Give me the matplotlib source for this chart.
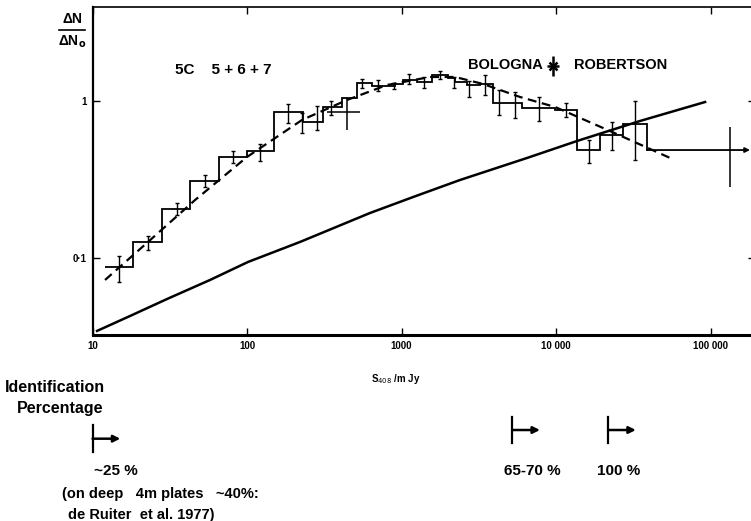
import numpy as np
import matplotlib
matplotlib.use('Agg')
import matplotlib.pyplot as plt
from matplotlib.ticker import FixedLocator, FixedFormatter
from matplotlib.transforms import blended_transform_factory, offset_copy

plt.rcParams['font.family'] = ['Liberation Sans', 'DejaVu Sans']

# 5C 5+6+7 differential counts (histogram), normalised to Euclidean
bin_edges = [12, 18.3, 28.2, 42.8, 65.9, 100, 150, 230, 310, 410,
             515, 645, 905, 1020, 1260, 1575, 2000, 2220, 2650, 3220,
             3900, 6000, 9850, 13700, 19300, 27200, 38800]
bin_vals = [0.088, 0.126, 0.205, 0.31, 0.44, 0.48, 0.85, 0.735, 0.916, 1.045,
            1.30, 1.246, 1.283, 1.36, 1.32, 1.46, 1.40, 1.32, 1.264, 1.283,
            0.971, 0.902, 0.876, 0.487, 0.607, 0.714]

# error bars on the histogram
err_x = [14.8, 22.9, 35.2, 53.5, 81.2, 121, 184, 227, 284, 350,
         555, 705, 894, 1118, 1398, 1775, 2187, 2735, 3472, 4276,
         5428, 7762, 11610, 16350, 23040, 32450]
err_y = [0.088, 0.126, 0.205, 0.31, 0.44, 0.47, 0.851, 0.735, 0.814, 0.916,
         1.302, 1.246, 1.246, 1.36, 1.321, 1.464, 1.321, 1.264, 1.30, 0.971,
         0.971, 0.902, 0.876, 0.487, 0.607, 0.714]
err_lo = [0.0703, 0.1124, 0.188, 0.2834, 0.4028, 0.4148, 0.724, 0.625, 0.654, 0.814,
          1.21, 1.158, 1.192, 1.283, 1.21, 1.381, 1.21, 1.06, 1.092, 0.814,
          0.779, 0.746, 0.791, 0.4028, 0.487, 0.421]
err_hi = [0.103, 0.138, 0.224, 0.338, 0.4804, 0.5323, 0.957, 0.839, 0.929, 1.0,
          1.381, 1.36, 1.302, 1.486, 1.422, 1.553, 1.422, 1.341, 1.464, 1.175,
          1.141, 1.06, 0.971, 0.5646, 0.735, 1.0]

# Robertson points (wide crosses)
rob_x = [444, 133700]
rob_y = [0.851, 0.487]
rob_xlo = [330, 38800]
rob_xhi = [539, 180000]
rob_ylo = [0.654, 0.283]
rob_yhi = [1.045, 0.683]

# dashed fitted curve
fit_x = [12.05, 23.6, 46.1, 100, 227, 444, 805, 1529, 2220, 3370, 5850, 9850, 23040, 54700]
fit_y = [0.0724, 0.130, 0.234, 0.44, 0.757, 1.015, 1.264, 1.422, 1.422, 1.283, 1.06, 0.916, 0.635, 0.4335]

# solid model curve
model_x = [10.7, 17.5, 30.4, 57.6, 101.5, 220, 625, 1250, 2390, 6490, 13670, 34970, 92130]
model_y = [0.0343, 0.0427, 0.0548, 0.0724, 0.0943, 0.1264, 0.1934, 0.249, 0.3138, 0.4335, 0.556, 0.746, 0.985]

# identification percentage limits
id_flux = [10, 5200, 21700]
id_labels = ['~25 %', '65-70 %', '100 %']

xticks = [10, 100, 1000, 10000, 100000]
xticklabels = ['10', '100', '1000', '10 000', '100 000']
yticks = [0.1, 1]
yticklabels = ['0·1', '1']

fig = plt.figure(figsize=(7.51, 5.21), dpi=100)
ax = fig.add_axes([0.1232, 0.357, 0.8822, 0.6296])
ax.set_xscale('log')
ax.set_yscale('log')
ax.set_xlim(10, 194000)
ax.set_ylim(0.0323, 3.97)

# histogram
ax.stairs(bin_vals, bin_edges, baseline=None, color='k', lw=1.3)
ax.plot([bin_edges[-1], bin_edges[-1]], [bin_vals[-1], rob_y[1]], color='k', lw=1.3)

yerr = [np.array(err_y) - np.array(err_lo), np.array(err_hi) - np.array(err_y)]
ax.errorbar(err_x, err_y, yerr=yerr, fmt='none', ecolor='k', elinewidth=1.0, capsize=1.2)

# Robertson first point: full cross
ax.errorbar(rob_x[0], rob_y[0],
            xerr=[[rob_x[0] - rob_xlo[0]], [rob_xhi[0] - rob_x[0]]],
            yerr=[[rob_y[0] - rob_ylo[0]], [rob_yhi[0] - rob_y[0]]],
            fmt='none', ecolor='k', elinewidth=1.1, capsize=0)
# Robertson last point: lower limit in flux with arrow
ax.errorbar(rob_x[1], rob_y[1],
            yerr=[[rob_y[1] - rob_ylo[1]], [rob_yhi[1] - rob_y[1]]],
            fmt='none', ecolor='k', elinewidth=1.1, capsize=0)
ax.annotate('', xy=(rob_xhi[1], rob_y[1]), xytext=(rob_xlo[1], rob_y[1]),
            arrowprops=dict(arrowstyle='-|>', color='k', lw=1.3, shrinkA=0, shrinkB=0,
                            mutation_scale=7))

ax.plot(fit_x, fit_y, color='k', lw=1.6, dashes=(4, 2.5))
ax.plot(model_x, model_y, color='k', lw=1.8)

# axes styling
for side, w in [('left', 1.6), ('bottom', 2.2), ('top', 1.2), ('right', 1.2)]:
    ax.spines[side].set_linewidth(w)
ax.xaxis.set_major_locator(FixedLocator(xticks))
ax.xaxis.set_major_formatter(FixedFormatter(xticklabels))
ax.yaxis.set_major_locator(FixedLocator(yticks))
ax.yaxis.set_major_formatter(FixedFormatter(yticklabels))
ax.minorticks_off()
ax.tick_params(which='major', direction='in', length=5, width=1, top=True, right=True,
               labelsize=7, pad=4)
for lab in ax.get_xticklabels() + ax.get_yticklabels():
    lab.set_fontweight('bold')

ax.set_xlabel(r'S$_{408}$ /m Jy', fontsize=7, fontweight='bold')
ax.xaxis.set_label_coords(0.458, -0.113)

# y-axis label as a fraction
fig.text(0.0965, 0.963, 'ΔN', ha='center', va='center', fontsize=10, fontweight='bold')
fig.add_artist(plt.Line2D([0.078, 0.113], [0.9425, 0.9425], color='k', lw=1.2))
fig.text(0.0955, 0.919, r'ΔN$_\mathbf{o}$', ha='center', va='center', fontsize=10, fontweight='bold')

ax.text(0.1245, 0.808, '5C    5 + 6 + 7', transform=ax.transAxes, ha='left', va='center',
        fontsize=11, fontweight='bold')
ax.text(0.680, 0.822, 'BOLOGNA', transform=ax.transAxes, ha='right', va='center',
        fontsize=10.5, fontweight='bold')
ax.text(0.7268, 0.822, 'ROBERTSON', transform=ax.transAxes, ha='left', va='center',
        fontsize=10.5, fontweight='bold')
for m, s in [('|', 14), ('x', 6), ('_', 8)]:
    ax.plot([0.695], [0.820], marker=m, markersize=s, mew=1.8, color='k',
            transform=ax.transAxes, clip_on=False)

# identification percentage section
fig.text(0.0067, 0.2553, 'Identification', ha='left', va='center', fontsize=11.5, fontweight='bold')
fig.text(0.0226, 0.215, 'Percentage', ha='left', va='center', fontsize=11.5, fontweight='bold')

trans = blended_transform_factory(ax.transData, fig.transFigure)
bar_ylo = [0.132, 0.1497, 0.1497]
bar_yhi = [0.184, 0.1996, 0.1996]
label_dx = [16.5, 14.5, 7.5]
for f, lab, y0, y1, dx in zip(id_flux, id_labels, bar_ylo, bar_yhi, label_dx):
    ax.plot([f, f], [y0, y1], color='k', lw=1.6, transform=trans, clip_on=False)
    ym = 0.5 * (y0 + y1)
    tip = offset_copy(trans, fig=fig, x=20, y=0, units='points')
    ax.annotate('', xy=(f, ym), xycoords=tip, xytext=(f, ym), textcoords=trans,
                arrowprops=dict(arrowstyle='-|>', color='k', lw=1.8, shrinkA=0, shrinkB=0,
                                mutation_scale=10), annotation_clip=False)
    lab_t = offset_copy(trans, fig=fig, x=dx, y=0, units='points')
    ax.text(f, 0.096, lab, transform=lab_t, ha='center', va='center',
            fontsize=11, fontweight='bold')

fig.text(0.0826, 0.052, '(on deep   4m plates   ~40%:', ha='left', va='center',
         fontsize=10.5, fontweight='bold')
fig.text(0.090, 0.012, 'de Ruiter  et al. 1977)', ha='left', va='center',
         fontsize=10.5, fontweight='bold')

fig.savefig('out.png', dpi=100)
